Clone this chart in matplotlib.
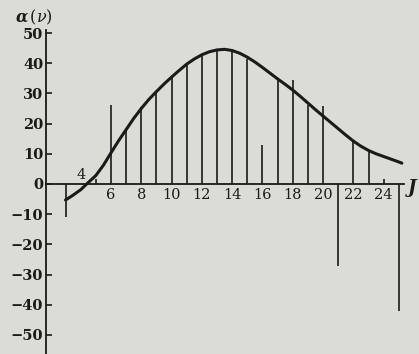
import matplotlib
matplotlib.use("Agg")
import matplotlib.pyplot as plt

plt.rcParams['font.family'] = ['DejaVu Serif']
plt.rcParams['mathtext.fontset'] = 'dejavuserif'

# Smooth curve alpha(nu)
curve_J = [3, 3.5, 4, 4.4, 5, 5.5, 6, 6.5, 7, 7.5, 8, 8.5, 9, 9.5, 10, 10.5, 11, 11.5,
           12, 12.5, 13, 13.5, 14, 14.5, 15, 15.5, 16, 16.5, 17, 17.5, 18, 18.5, 19,
           19.5, 20, 20.5, 21, 21.5, 22, 22.5, 23, 23.5, 24, 24.5, 25, 25.2]
curve_a = [-5.3, -3.7, -1.9, 0.0, 2.8, 6.2, 10.3, 14.3, 18.0, 21.7, 25.0, 28.0, 30.6,
           33.1, 35.4, 37.6, 39.7, 41.4, 42.8, 43.8, 44.4, 44.6, 44.2, 43.3, 42.0,
           40.4, 38.6, 36.7, 34.8, 33.0, 31.1, 29.0, 26.8, 24.6, 22.5, 20.4, 18.3,
           16.2, 14.2, 12.5, 11.1, 10.0, 9.1, 8.2, 7.3, 6.9]

# Measured values (vertical lines) at each J
stem_J = [3, 5, 6, 7, 8, 9, 10, 11, 12, 13, 14, 15, 16, 17, 18, 19, 20, 21, 22, 23, 24, 25]
stem_a = [-11, 1.5, 26, 18, 25.5, 30.3, 35.5, 40, 43, 44.3, 43.8, 41.5, 13, 34.7, 34.3,
          26, 25.7, -27.3, 13.9, 11.1, 1.5, -42.2]

x_ticks = [6, 8, 10, 12, 14, 16, 18, 20, 22, 24]
y_ticks = [-50, -40, -30, -20, -10, 0, 10, 20, 30, 40, 50]

bg = '#dcdcd7'
ink = '#1a1a1a'

W, H = 419, 354
fig = plt.figure(figsize=(W / 100, H / 100), dpi=100, facecolor=bg)
ax = fig.add_axes([46 / W, 0, (404 - 46) / W, (354 - 30) / H], facecolor=bg)
ax.set_xlim(1.713, 25.34)
ax.set_ylim(-56.3, 51.0)

for sp in ['top', 'right']:
    ax.spines[sp].set_visible(False)
ax.spines['bottom'].set_position(('data', 0))
ax.spines['left'].set_position(('axes', 0))
for sp in ['bottom', 'left']:
    ax.spines[sp].set_color(ink)
    ax.spines[sp].set_linewidth(1.3)

ax.vlines(stem_J, 0, stem_a, color=ink, linewidth=1.2)
ax.plot(curve_J, curve_a, color=ink, linewidth=2.2, solid_capstyle='round',
        solid_joinstyle='round')

ax.set_xticks(x_ticks)
ax.set_xticklabels([str(v) for v in x_ticks])
ax.tick_params(axis='x', length=0, pad=3, labelsize=10.5, labelcolor=ink)

ax.set_yticks(y_ticks)
ax.set_yticklabels([("\u2212" + str(abs(v))) if v < 0 else str(v) for v in y_ticks],
                   fontweight='bold')
ax.tick_params(axis='y', direction='in', length=4, width=1.2, color=ink, pad=2,
               labelsize=10.5, labelcolor=ink)

ax.text(4, 0.8, "4", ha='center', va='bottom', fontsize=10.5, color=ink)

fig.text(15 / W, 1 - 17 / H, r"$\boldsymbol{\alpha}\,(\nu)$", ha='left', va='center',
         fontsize=11.5, color=ink)
fig.text(412 / W, 1 - 188 / H, "J", ha='center', va='center', fontsize=13,
         style='italic', fontweight='bold', color=ink)

fig.savefig("out.png", dpi=100, facecolor=bg)
